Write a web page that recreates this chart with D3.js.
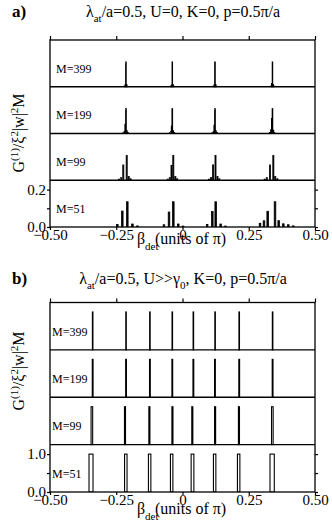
<!DOCTYPE html>
<html>
<head>
<meta charset="utf-8">
<script src="https://cdn.jsdelivr.net/npm/d3@7"></script>
<style>
  body { margin: 0; background: #fff; }
  svg text { font-family: "Liberation Serif", serif; fill: #000; }
  .tick line { stroke: #000; stroke-width: 1.2; }
</style>
</head>
<body>
<svg id="fig" width="332" height="531" font-family="Liberation Serif"></svg>
<script>
// shared axis data
const betaTicks = [-0.5, -0.25, 0, 0.25, 0.5];
const rowLabels = ['M=399', 'M=199', 'M=99', 'M=51'];
const aTicks = [0, 0.1, 0.2];
const bTicks = [0, 0.5, 1.0];

// panel a: [beta, G] bars for each M
const aM399 = [
  [-0.219, 0.004], [-0.216, 0.010], [-0.2135, 0.133], [-0.211, 0.012], [-0.208, 0.004],
  [-0.044, 0.004], [-0.041, 0.010], [-0.0385, 0.133], [-0.036, 0.012], [-0.033, 0.004],
  [0.117, 0.004], [0.120, 0.010], [0.1225, 0.133], [0.125, 0.012], [0.128, 0.004],
  [0.334, 0.004], [0.337, 0.018], [0.3395, 0.133], [0.342, 0.012], [0.345, 0.004]
];
const aM199 = [
  [-0.224, 0.004], [-0.219, 0.012], [-0.216, 0.050], [-0.2135, 0.133], [-0.210, 0.015], [-0.206, 0.005],
  [-0.049, 0.004], [-0.044, 0.010], [-0.041, 0.040], [-0.0385, 0.133], [-0.035, 0.015], [-0.031, 0.005],
  [0.112, 0.004], [0.117, 0.010], [0.120, 0.045], [0.1225, 0.133], [0.126, 0.015], [0.130, 0.005],
  [0.329, 0.006], [0.334, 0.020], [0.337, 0.080], [0.3395, 0.133], [0.343, 0.018], [0.347, 0.006]
];
const aM99 = [
  [-0.240, 0.006], [-0.232, 0.014], [-0.2234, 0.082], [-0.2106, 0.133], [-0.203, 0.020], [-0.196, 0.008],
  [-0.056, 0.006], [-0.048, 0.014], [-0.0415, 0.080], [-0.0347, 0.133], [-0.027, 0.020], [-0.020, 0.008],
  [0.100, 0.006], [0.108, 0.014], [0.1155, 0.082], [0.1245, 0.133], [0.132, 0.020], [0.139, 0.008],
  [0.310, 0.006], [0.318, 0.014], [0.330, 0.082], [0.3428, 0.133], [0.350, 0.020], [0.358, 0.008]
];
const aM51 = [
  [-0.246, 0.014], [-0.2272, 0.085], [-0.2083, 0.135], [-0.189, 0.016], [-0.170, 0.006],
  [-0.070, 0.012], [-0.0509, 0.080], [-0.0347, 0.135], [-0.016, 0.016], [0.002, 0.005],
  [0.093, 0.014], [0.1125, 0.083], [0.1253, 0.135], [0.144, 0.016], [0.162, 0.005],
  [0.2925, 0.020], [0.3075, 0.033], [0.3215, 0.084], [0.3491, 0.135], [0.3630, 0.034],
  [0.3804, 0.017], [0.3992, 0.012], [0.418, 0.006]
];

// panel b: [beta from, beta to, G] bars for each M
const bM399 = [
  [-0.340, -0.338, 1], [-0.214, -0.212, 1], [-0.124, -0.122, 1], [-0.0395, -0.0375, 1],
  [0.040, 0.042, 1], [0.122, 0.124, 1], [0.213, 0.215, 1], [0.339, 0.341, 1]
];
const bM199 = [
  [-0.3405, -0.3375, 1], [-0.2145, -0.2115, 1], [-0.1245, -0.1215, 1], [-0.040, -0.037, 1],
  [0.0395, 0.0425, 1], [0.121, 0.124, 1], [0.2125, 0.2155, 1], [0.3385, 0.3415, 1]
];
const bM99 = [
  [-0.345, -0.339, 1], [-0.219, -0.215, 1], [-0.127, -0.123, 1], [-0.040, -0.036, 1],
  [0.035, 0.039, 1], [0.121, 0.125, 1], [0.211, 0.215, 1], [0.336, 0.342, 1]
];
const bM51 = [
  [-0.3528, -0.3377, 1], [-0.2186, -0.2093, 1], [-0.1286, -0.1194, 1], [-0.0455, -0.0363, 1],
  [0.0326, 0.0429, 1], [0.1167, 0.1259, 1], [0.2073, 0.2165, 1], [0.3302, 0.3464, 1]
];

const aRows = [aM399, aM199, aM99, aM51];
const aBinWidth = [0.0025, 0.003, 0.004, 0.006];   // bar width in beta units
const bRows = [bM399, bM199, bM99, bM51];

const svg = d3.select('#fig');
const x = d3.scaleLinear().domain([-0.5, 0.5]).range([50, 315]);

function drawPanel(opt) {
  let g = svg.append('g');
  let rowH = (opt.bottom - opt.top) / 4;
  let ys = d3.range(4).map(i => d3.scaleLinear()
    .domain([0, opt.ymax])
    .range([opt.top + (i + 1) * rowH, opt.top + i * rowH]));

  let clipId = 'clip' + opt.name;
  svg.append('clipPath').attr('id', clipId)
    .append('rect')
    .attr('x', x(-0.5)).attr('y', opt.top)
    .attr('width', x(0.5) - x(-0.5)).attr('height', opt.bottom - opt.top);

  let marks = g.append('g').attr('clip-path', 'url(#' + clipId + ')');

  opt.rows.forEach((rows, i) => {
    let y = ys[i];
    if (opt.kind === 'a') {
      let w = opt.binWidth[i];
      marks.selectAll(null)
        .data(rows)
        .enter().append('rect')
        .attr('x', d => x(d[0] - w / 2))
        .attr('width', d => x(d[0] + w / 2) - x(d[0] - w / 2))
        .attr('y', d => y(d[1]))
        .attr('height', d => y(0) - y(d[1]))
        .style('fill', '#000')
        .style('stroke', '#000')
        .style('stroke-width', 0.8);
    } else {
      marks.selectAll(null)
        .data(rows)
        .enter().append('rect')
        .attr('x', d => x(d[0]))
        .attr('width', d => x(d[1]) - x(d[0]))
        .attr('y', d => y(d[2]))
        .attr('height', d => y(0) - y(d[2]))
        .style('fill', '#fff')
        .style('stroke', '#000')
        .style('stroke-width', 1.1);
    }

    g.append('text')
      .attr('x', opt.labelX)
      .attr('y', opt.top + i * rowH + rowH * 0.7)
      .style('font-size', '12px')
      .text(rowLabels[i]);
  });

  // frame + row separators
  g.append('rect')
    .attr('x', x(-0.5)).attr('y', opt.top)
    .attr('width', x(0.5) - x(-0.5)).attr('height', opt.bottom - opt.top)
    .style('fill', 'none').style('stroke', '#000').style('stroke-width', 1.3);
  for (let i = 1; i < 4; i++) {
    g.append('line')
      .attr('x1', x(-0.5)).attr('x2', x(0.5))
      .attr('y1', opt.top + i * rowH).attr('y2', opt.top + i * rowH)
      .style('stroke', '#000').style('stroke-width', 1.3);
  }

  // x axes
  let fmt = d => d === 0 ? '0' : d3.format('.2f')(d);
  let xb = g.append('g')
    .attr('transform', 'translate(0,' + opt.bottom + ')')
    .call(d3.axisBottom(x).tickValues(betaTicks).tickSize(3).tickPadding(-1).tickFormat(fmt));
  xb.select('.domain').remove();
  xb.attr('font-family', 'Liberation Serif');
  xb.selectAll('text').style('font-size', '15px');

  let xt = g.append('g')
    .attr('transform', 'translate(0,' + opt.top + ')')
    .call(d3.axisTop(x).tickValues(betaTicks).tickSize(4).tickFormat(''));
  xt.select('.domain').remove();

  // y axes on the lowest row
  let yl = g.append('g')
    .attr('transform', 'translate(' + x(-0.5) + ',0)')
    .call(d3.axisLeft(ys[3]).tickValues(opt.yTicks).tickSize(3).tickPadding(1)
      .tickFormat((d, k) => k === 1 ? '' : d3.format('.1f')(d)));
  yl.select('.domain').remove();
  yl.attr('font-family', 'Liberation Serif');
  yl.selectAll('text').style('font-size', '15px');

  let yr = g.append('g')
    .attr('transform', 'translate(' + x(0.5) + ',0)')
    .call(d3.axisRight(ys[3]).tickValues(opt.yTicks).tickSize(3).tickFormat(''));
  yr.select('.domain').remove();

  // y label
  let yt = g.append('text')
    .attr('transform', 'translate(24,' + opt.yLabelY + ') rotate(-90)')
    .attr('text-anchor', 'middle')
    .style('font-size', '16px');
  yt.append('tspan').text('G');
  yt.append('tspan').attr('dy', -6).style('font-size', '11px').text('(1)');
  yt.append('tspan').attr('dy', 6).text('/ξ');
  yt.append('tspan').attr('dy', -6).style('font-size', '11px').text('2');
  yt.append('tspan').attr('dy', 6).text('|w|');
  yt.append('tspan').attr('dy', -6).style('font-size', '11px').text('2');
  yt.append('tspan').attr('dy', 6).text('M');

  // x label
  let xlY = opt.xLabelY;
  g.append('text').attr('x', 137).attr('y', xlY).style('font-size', '16px').text('β');
  g.append('text').attr('x', 145).attr('y', xlY + 6).style('font-size', '11px').text('det');
  g.append('text').attr('x', 155).attr('y', xlY).style('font-size', '16px').text('(units of π)');

  // title
  let t = g.append('text')
    .attr('x', 183).attr('y', opt.titleY)
    .attr('text-anchor', 'middle')
    .style('font-size', '16px');
  t.append('tspan').text('λ');
  t.append('tspan').attr('dy', 5).style('font-size', '11px').text('at');
  t.append('tspan').attr('dy', -5).text(opt.title1);
  if (opt.sub) {
    t.append('tspan').attr('dy', 5).style('font-size', '11px').text(opt.sub);
    t.append('tspan').attr('dy', -5).text(opt.title2);
  }

  g.append('text')
    .attr('x', 12).attr('y', opt.titleY)
    .style('font-size', '17px').style('font-weight', 'bold')
    .text(opt.name + ')');
}

drawPanel({
  name: 'a', kind: 'a', rows: aRows, binWidth: aBinWidth,
  top: 40, bottom: 227, ymax: 0.25, yTicks: aTicks,
  labelX: 56, yLabelY: 133, xLabelY: 244, titleY: 17,
  title1: '/a=0.5, U=0, K=0, p=0.5π/a'
});

drawPanel({
  name: 'b', kind: 'b', rows: bRows,
  top: 302.5, bottom: 492, ymax: 1.25, yTicks: bTicks,
  labelX: 52, yLabelY: 371, xLabelY: 514, titleY: 284,
  title1: '/a=0.5, U>>γ', sub: '0', title2: ', K=0, p=0.5π/a'
});
</script>
</body>
</html>
